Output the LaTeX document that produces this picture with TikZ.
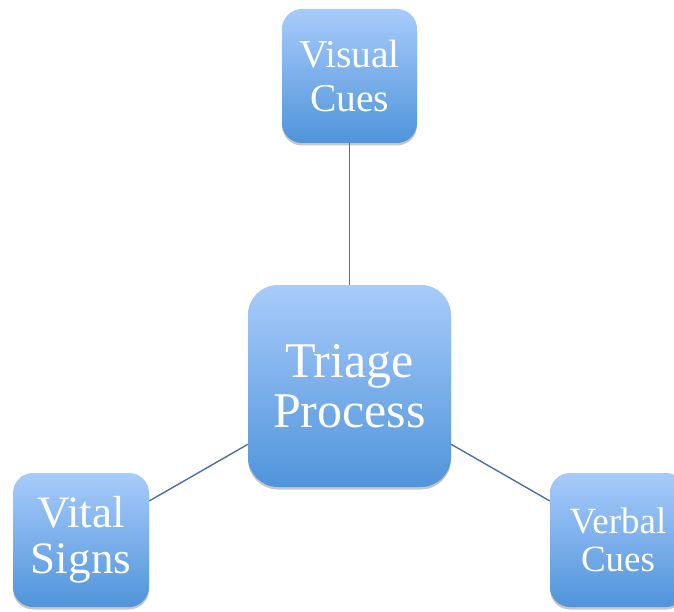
\documentclass[tikz,border=0pt]{standalone}
\usepackage{fontspec}
\setmainfont{Liberation Serif}
\usetikzlibrary{shadows}
\definecolor{boxtop}{RGB}{167,203,251}
\definecolor{boxbot}{RGB}{80,148,218}
\definecolor{linkcol}{RGB}{74,112,160}
\tikzset{
  cue/.style={rectangle, rounded corners=20pt, inner sep=0pt,
    minimum width=135pt, minimum height=134pt,
    top color=boxtop, bottom color=boxbot, text=white, align=center,
    drop shadow={shadow xshift=0pt, shadow yshift=-2.5pt, opacity=0.22, fill=black}},
  hub/.style={cue, rounded corners=30pt, minimum width=203pt, minimum height=202pt},
  link/.style={draw=linkcol, line width=1.4pt}
}
\begin{document}
\begin{tikzpicture}[x=1pt,y=-1pt]
\useasboundingbox (0,0) rectangle (674,612);
\clip (0,0) rectangle (674,612);
\node[hub, font=\fontsize{50}{50}\selectfont] (triage) at (349.5,386) {Triage\\Process};
\node[cue, font=\fontsize{39.5}{44}\selectfont] (visual) at (349.5,76) {Visual\\Cues};
\node[cue, minimum width=136pt, font=\fontsize{45}{46}\selectfont] (vital) at (81,540) {Vital\\Signs};
\node[cue, minimum width=136pt, font=\fontsize{37}{38}\selectfont] (verbal) at (618,540) {Verbal\\Cues};
\draw[link] (visual) -- (triage);
\draw[link] (vital) -- (triage);
\draw[link] (verbal) -- (triage);
\end{tikzpicture}
\end{document}
